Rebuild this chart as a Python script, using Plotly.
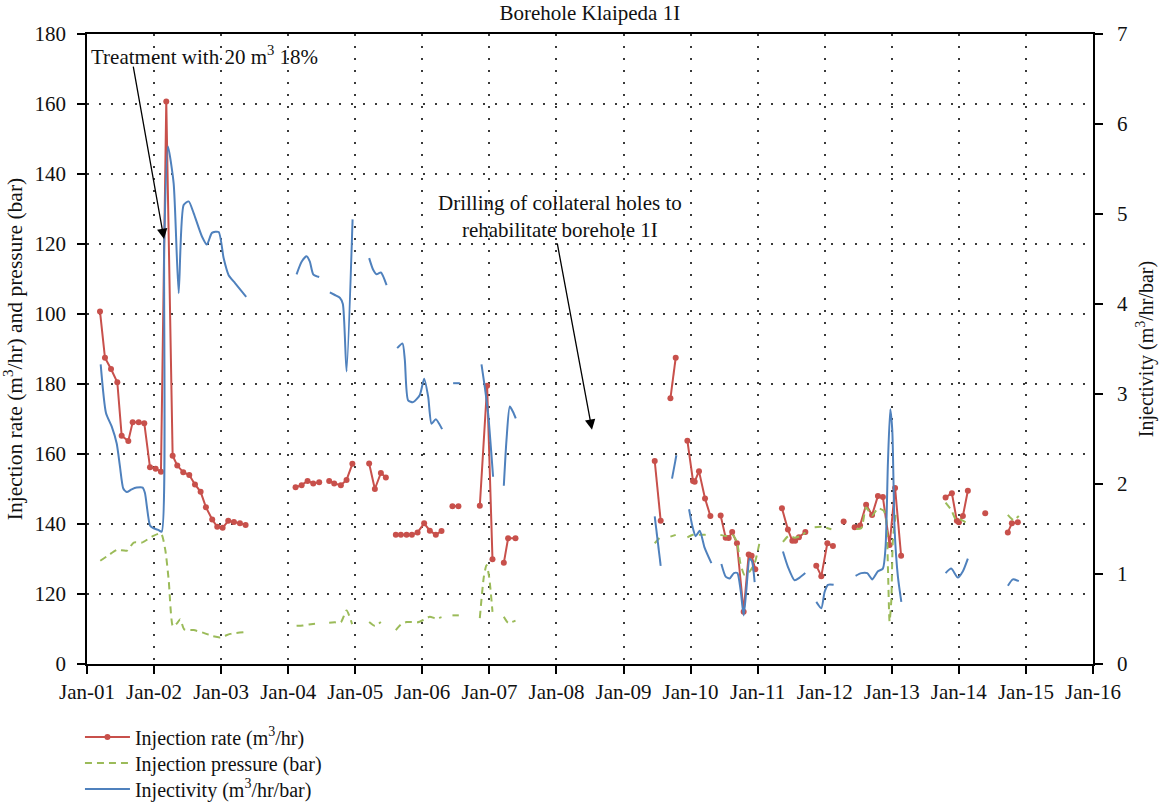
import plotly.graph_objects as go

# ---------------- data (x in decimal years) ----------------
x_tick_years = list(range(2001, 2017))
x_tick_labels = ["Jan-%02d" % (y % 100) for y in x_tick_years]

left_tick_vals = [0, 20, 40, 60, 80, 100, 120, 140, 160, 180]
left_tick_text = ["0", "120", "140", "160", "180", "100", "120", "140", "160", "180"]

# Injection rate (m3/hr) - segments
rate_years = [
    [2001.194, 2001.268, 2001.358, 2001.452, 2001.517, 2001.616, 2001.681, 2001.771, 2001.854, 2001.939,
     2002.024, 2002.103, 2002.182, 2002.277, 2002.346, 2002.435, 2002.525, 2002.610, 2002.694, 2002.773,
     2002.867, 2002.942, 2003.022, 2003.106, 2003.191, 2003.280, 2003.365],
    [2004.110, 2004.200, 2004.289, 2004.373, 2004.462],
    [2004.611, 2004.686, 2004.785, 2004.870, 2004.957],
    [2005.207, 2005.292, 2005.382, 2005.456],
    [2005.605, 2005.680, 2005.765, 2005.844, 2005.929, 2006.027, 2006.112, 2006.201, 2006.286],
    [2006.449, 2006.538],
    [2006.857, 2006.966, 2007.046],
    [2007.215, 2007.279, 2007.389],
    [2009.465, 2009.554],
    [2009.699, 2009.778],
    [2009.952, 2010.036, 2010.061, 2010.125, 2010.215, 2010.295],
    [2010.448, 2010.523, 2010.568, 2010.620, 2010.691, 2010.791, 2010.866, 2010.910, 2010.965],
    [2011.362, 2011.451, 2011.517, 2011.559, 2011.615, 2011.711],
    [2011.874, 2011.949, 2012.039, 2012.122],
    [2012.282],
    [2012.446, 2012.527, 2012.617, 2012.706, 2012.793, 2012.867, 2012.967, 2013.049, 2013.139],
    [2013.802, 2013.896, 2013.970, 2014.000, 2014.060, 2014.134],
    [2014.393],
    [2014.730, 2014.790, 2014.879],
]
rate_values = [
    [100.7, 87.5, 84.3, 80.5, 65.2, 63.7, 69.1, 69.1, 68.8, 56.2,
     55.8, 54.9, 160.7, 59.5, 56.7, 54.8, 54.0, 51.3, 49.2, 44.8,
     41.3, 39.2, 38.9, 40.9, 40.6, 40.2, 39.7],
    [50.5, 51.1, 52.3, 51.6, 51.9],
    [52.3, 51.6, 51.1, 52.6, 57.2],
    [57.3, 50.0, 54.6, 53.3],
    [36.9, 36.9, 36.9, 36.9, 37.6, 40.2, 38.1, 36.9, 38.0],
    [45.1, 45.1],
    [45.2, 79.5, 29.9],
    [28.9, 35.9, 35.9],
    [58.0, 40.9],
    [75.9, 87.5],
    [63.8, 52.3, 52.1, 55.1, 47.3, 42.3],
    [42.4, 36.1, 36.0, 37.7, 34.5, 14.9, 31.3, 30.9, 27.1],
    [44.5, 38.4, 35.2, 35.2, 36.2, 37.7],
    [28.1, 25.1, 34.5, 33.7],
    [40.7],
    [39.1, 39.6, 45.5, 42.6, 48.0, 47.7, 34.0, 50.3, 30.9],
    [47.6, 48.8, 40.9, 40.5, 42.3, 49.5],
    [43.1],
    [37.6, 40.2, 40.5],
]

# Injection pressure (bar) - segments
pressure_years = [
    [2001.198, 2001.323, 2001.447, 2001.596, 2001.696, 2001.820, 2001.969, 2002.103, 2002.167, 2002.218,
     2002.282, 2002.341, 2002.390, 2002.450, 2002.590, 2002.739, 2002.863, 2002.987, 2003.136, 2003.359],
    [2004.125, 2004.219, 2004.308, 2004.462],
    [2004.611, 2004.696, 2004.785, 2004.870, 2004.953],
    [2005.207, 2005.292, 2005.382],
    [2005.605, 2005.680, 2005.765, 2005.844, 2005.929, 2006.027, 2006.112, 2006.201, 2006.286],
    [2006.449, 2006.544],
    [2006.857, 2006.917, 2006.957, 2006.996, 2007.046],
    [2007.215, 2007.279, 2007.389],
    [2009.465, 2009.554],
    [2009.699, 2009.778],
    [2009.952, 2010.036, 2010.125, 2010.215, 2010.295],
    [2010.444, 2010.523, 2010.623, 2010.691, 2010.742, 2010.806, 2010.880, 2010.955, 2011.030],
    [2011.377, 2011.462, 2011.551, 2011.641, 2011.711],
    [2011.850, 2011.954, 2012.099],
    [2012.471, 2012.545, 2012.617, 2012.706, 2012.793, 2012.878, 2012.918, 2012.942, 2012.967, 2012.993,
     2013.016, 2013.067],
    [2013.802, 2013.886, 2013.961, 2014.025, 2014.119],
    [2014.730, 2014.815, 2014.894],
]
pressure_values = [
    [29.5, 31.1, 32.6, 32.4, 34.7, 34.7, 36.4, 37.3, 32.6, 24.0,
     10.7, 11.6, 12.8, 9.9, 9.7, 8.9, 8.0, 7.6, 8.6, 9.1],
    [10.9, 11.0, 11.3, 11.6],
    [11.8, 11.9, 11.9, 15.3, 11.4],
    [12.0, 10.9, 12.0],
    [9.7, 11.3, 12.0, 12.0, 11.9, 12.7, 13.5, 13.0, 13.4],
    [13.9, 13.9],
    [13.1, 24.9, 28.3, 24.9, 14.9],
    [13.5, 11.8, 12.4],
    [34.5, 36.4],
    [36.4, 36.9],
    [36.2, 36.9, 36.9, 36.9, 36.7],
    [36.9, 36.6, 36.9, 34.9, 28.8, 25.4, 26.4, 28.8, 34.9],
    [34.9, 36.6, 36.1, 36.6, 37.6],
    [39.1, 39.2, 38.5],
    [38.6, 38.8, 44.7, 42.4, 44.5, 43.8, 41.1, 27.8, 12.1, 18.3,
     35.4, 44.0],
    [46.1, 44.0, 41.1, 41.3, 40.2],
    [42.6, 41.1, 42.3],
]

# Injectivity (m3/hr/bar) - segments, right axis
injectivity_years = [
    [2001.204, 2001.283, 2001.368, 2001.443, 2001.492, 2001.541, 2001.592, 2001.666, 2001.741, 2001.830,
     2001.864, 2001.939, 2001.988, 2002.063, 2002.113, 2002.152, 2002.207, 2002.292, 2002.367, 2002.441,
     2002.516, 2002.590, 2002.714, 2002.788, 2002.863, 2002.963, 2003.037, 2003.112, 2003.210, 2003.374],
    [2004.125, 2004.200, 2004.274, 2004.323, 2004.373, 2004.462],
    [2004.621, 2004.696, 2004.770, 2004.815, 2004.870, 2004.960],
    [2005.207, 2005.267, 2005.318, 2005.382, 2005.467],
    [2005.625, 2005.705, 2005.739, 2005.788, 2005.863, 2005.963, 2006.027, 2006.087, 2006.137, 2006.201,
     2006.295],
    [2006.459, 2006.559],
    [2006.882, 2006.931, 2006.980, 2007.055],
    [2007.215, 2007.255, 2007.304, 2007.353, 2007.393],
    [2009.465, 2009.554],
    [2009.723, 2009.788],
    [2009.977, 2010.027, 2010.076, 2010.136, 2010.210, 2010.310],
    [2010.459, 2010.523, 2010.582, 2010.646, 2010.697, 2010.746, 2010.791, 2010.831, 2010.880, 2010.915,
     2010.955],
    [2011.377, 2011.451, 2011.551, 2011.625, 2011.710],
    [2011.874, 2011.949, 2011.998, 2012.048, 2012.133],
    [2012.460, 2012.545, 2012.634, 2012.709, 2012.793, 2012.867, 2012.907, 2012.942, 2012.977, 2013.007,
     2013.042, 2013.091, 2013.142],
    [2013.802, 2013.886, 2013.985, 2014.060, 2014.134],
    [2014.731, 2014.805, 2014.894],
]
injectivity_values = [
    [3.33, 2.79, 2.64, 2.45, 2.19, 1.95, 1.91, 1.94, 1.96, 1.96,
     1.90, 1.54, 1.51, 1.49, 1.47, 4.71, 5.75, 5.34, 4.12, 5.10,
     5.14, 5.01, 4.75, 4.66, 4.79, 4.80, 4.51, 4.32, 4.23, 4.08],
    [4.33, 4.47, 4.53, 4.47, 4.33, 4.30],
    [4.13, 4.10, 4.07, 4.00, 3.25, 4.94],
    [4.51, 4.38, 4.33, 4.35, 4.21],
    [3.51, 3.56, 3.38, 2.93, 2.91, 2.99, 3.17, 2.97, 2.67, 2.72,
     2.61],
    [3.12, 3.12],
    [3.33, 3.08, 2.79, 2.08],
    [1.98, 2.49, 2.86, 2.80, 2.73],
    [1.64, 1.09],
    [2.06, 2.32],
    [1.72, 1.53, 1.42, 1.48, 1.29, 1.12],
    [1.11, 0.97, 0.95, 1.01, 1.01, 0.82, 0.54, 0.82, 1.17, 1.14,
     0.91],
    [1.25, 1.08, 0.93, 0.96, 1.01],
    [0.69, 0.62, 0.80, 0.88, 0.88],
    [0.98, 1.01, 1.01, 0.94, 1.03, 1.06, 1.30, 2.23, 2.83, 2.60,
     1.49, 0.97, 0.69],
    [1.01, 1.06, 0.96, 1.03, 1.17],
    [0.87, 0.94, 0.92],
]


def flatten(segments):
    out = []
    for i, seg in enumerate(segments):
        if i:
            out.append(None)
        out.extend(seg)
    return out


FONT = "Liberation Serif"
RED = "#C8504B"
GREEN = "#9BBB59"
BLUE = "#4F81BD"
GRID = "#3a3a3a"
TXT = "#111111"

fig = go.Figure()
fig.add_trace(go.Scatter(
    x=flatten(rate_years), y=flatten(rate_values), mode="lines+markers",
    name="Injection rate (m<sup>3</sup>/hr)", connectgaps=False, legend="legend",
    line=dict(color=RED, width=2), marker=dict(color=RED, size=6)))
fig.add_trace(go.Scatter(
    x=flatten(pressure_years), y=flatten(pressure_values), mode="lines",
    name="Injection pressure (bar)", connectgaps=False, legend="legend2",
    line=dict(color=GREEN, width=2, dash="7px,5px", shape="spline", smoothing=0.6)))
fig.add_trace(go.Scatter(
    x=flatten(injectivity_years), y=flatten(injectivity_values), mode="lines",
    name="Injectivity (m<sup>3</sup>/hr/bar)", connectgaps=False, yaxis="y2", legend="legend3",
    line=dict(color=BLUE, width=2, shape="spline", smoothing=0.6)))

axis_common = dict(showline=True, linecolor="black", linewidth=1.5, ticks="outside",
                   ticklen=8, tickwidth=1.5, tickcolor="black", zeroline=False,
                   automargin=False)

legend_common = dict(x=-0.007, xanchor="left", yanchor="middle", orientation="v",
                     bgcolor="rgba(0,0,0,0)", font=dict(size=20), itemwidth=45)

fig.update_layout(
    width=1161, height=803,
    paper_bgcolor="white", plot_bgcolor="white",
    margin=dict(l=87, r=68, t=34, b=139, autoexpand=False),
    font=dict(family=FONT, size=21, color=TXT),
    title=dict(text="Borehole Klaipeda 1I", x=0.508, xanchor="center", y=0.984, yanchor="middle",
               yref="container", font=dict(family=FONT, size=21, color=TXT)),
    xaxis=dict(range=[2001, 2016], tickvals=x_tick_years, ticktext=x_tick_labels, mirror=True,
               showgrid=True, gridcolor=GRID, gridwidth=1.5, griddash="2px,10px",
               tickfont=dict(size=21), **axis_common),
    yaxis=dict(range=[0, 180], tickvals=left_tick_vals, ticktext=left_tick_text,
               showgrid=True, gridcolor=GRID, gridwidth=1.5, griddash="2px,10px",
               tickfont=dict(size=21), ticklabelstandoff=7,
               title=dict(text="Injection rate (m<sup>3</sup>/hr) and pressure (bar)", standoff=11,
                          font=dict(size=21.5)),
               **axis_common),
    yaxis2=dict(range=[0, 7], dtick=1, overlaying="y", side="right", showgrid=False,
                tickfont=dict(size=21), ticklabelstandoff=10,
                title=dict(text="Injectivity (m<sup>3</sup>/hr/bar)", standoff=12,
                           font=dict(size=20)),
                **axis_common),
    showlegend=True,
    legend=dict(y=-0.1159, **legend_common),
    legend2=dict(y=-0.1571, **legend_common),
    legend3=dict(y=-0.1984, **legend_common),
    annotations=[
        dict(text="Treatment with 20 m<sup>3</sup> 18%", x=2002.759, y=174, xref="x", yref="y",
             showarrow=False, xanchor="center", yanchor="middle", font=dict(size=21)),
        dict(text="", x=2002.148, y=121.4, ax=2001.686, ay=171.1, xref="x", yref="y",
             axref="x", ayref="y", showarrow=True, arrowhead=2, arrowsize=1.6, arrowwidth=1.3,
             arrowcolor="black", standoff=0, startstandoff=0),
        dict(text="Drilling of collateral holes to<br>rehabilitate borehole 1I", x=2008.052, y=127.9,
             xref="x", yref="y", showarrow=False, xanchor="center", yanchor="middle",
             font=dict(size=21)),
        dict(text="", x=2008.530, y=66.9, ax=2008.008, ay=120.6, xref="x", yref="y",
             axref="x", ayref="y", showarrow=True, arrowhead=2, arrowsize=1.6, arrowwidth=1.3,
             arrowcolor="black", standoff=0, startstandoff=0),
    ],
)

fig.write_html("out.html", config={"displayModeBar": False},
               post_script="document.body.style.margin='0';document.body.style.overflow='hidden';")
